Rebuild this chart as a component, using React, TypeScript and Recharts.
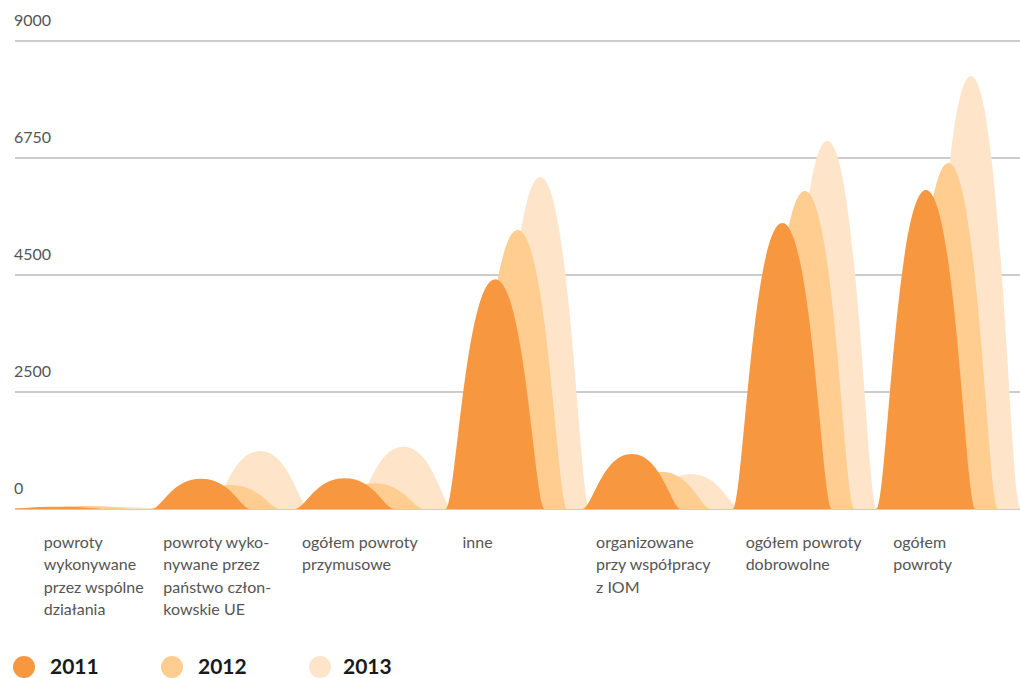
import React from "react";
import { BarChart, Bar, XAxis, YAxis, CartesianGrid, Legend } from "recharts";

const CATEGORIES = [
  "powroty wykonywane przez wspólne działania",
  "powroty wykonywane przez państwo członkowskie UE",
  "ogółem powroty przymusowe",
  "inne",
  "organizowane przy współpracy z IOM",
  "ogółem powroty dobrowolne",
  "ogółem powroty",
];

const CATEGORY_LINES = [
  ["powroty", "wykonywane", "przez wspólne", "działania"],
  ["powroty wyko-", "nywane przez", "państwo człon-", "kowskie UE"],
  ["ogółem powroty", "przymusowe"],
  ["inne"],
  ["organizowane", "przy współpracy", "z IOM"],
  ["ogółem powroty", "dobrowolne"],
  ["ogółem", "powroty"],
];

const YEARS = ["2011", "2012", "2013"];
const V2011 = [45, 583, 590, 4420, 1058, 5500, 6135];
const V2012 = [60, 462, 494, 5365, 718, 6115, 6654];
const V2013 = [40, 1115, 1198, 6385, 673, 7077, 8327];

const Y_TICKS = [0, 2250, 4500, 6750, 9000];
const Y_TICK_LABELS = ["0", "2500", "4500", "6750", "9000"];

const COLORS = ["#F79740", "#FECD8F", "#FEE5CA"];

// layout-only constants
const LABEL_DX = [-43, -67, -72, -55, -65, -59, -55];
const BAR_SIZE = 10;
const HALF_W = 49.5;

const data = CATEGORIES.map((c, i) => ({
  name: c,
  y2011: V2011[i],
  y2012: V2012[i],
  y2013: V2013[i],
}));

const clamp = (v: number, a: number, b: number) => Math.max(a, Math.min(b, v));

const makeBell = (yearIdx: number, childIdx: number) => (props: any) => {
  const { x, y, width, height, fill } = props;
  if (x == null || y == null || !height) return <g />;
  const barCenter = x + width / 2;
  const bandCenter = barCenter - (childIdx - 1) * BAR_SIZE;
  const step = 22.5 + 7 * clamp((150 - height) / 90, 0, 1);
  const cx = bandCenter + (yearIdx - 1) * step;
  const base = y + height;
  const top = y;
  const W = HALF_W;
  const d = `M${cx - W},${base} C${cx - 0.8 * W},${base} ${cx - 0.6 * W},${top} ${cx},${top} C${cx + 0.6 * W},${top} ${cx + 0.8 * W},${base} ${cx + W},${base} Z`;
  return <path d={d} fill={fill} stroke="none" />;
};

const YTick = (props: any) => {
  const { y, payload } = props;
  const idx = Y_TICKS.indexOf(Number(payload && payload.value));
  const label = idx >= 0 ? Y_TICK_LABELS[idx] : String(payload && payload.value);
  return (
    <text x={14} y={y - 15.5} fill="#555" fontSize={16} fontFamily="Lato" textAnchor="start">
      {label}
    </text>
  );
};

const XTick = (props: any) => {
  const { x, y, payload } = props;
  const index = CATEGORIES.indexOf(payload && payload.value);
  const lines = CATEGORY_LINES[index] || [];
  const lx = x + (LABEL_DX[index] || 0);
  return (
    <text x={lx} y={y} fill="#555" fontSize={16} fontFamily="Lato" textAnchor="start">
      {lines.map((l, i) => (
        <tspan key={i} x={lx} y={y + 39 + i * 22.3}>
          {l}
        </tspan>
      ))}
    </text>
  );
};

const LegendContent = () => (
  <div style={{ position: "relative", width: 420, height: 22 }}>
    {YEARS.map((yr, i) => (
      <div key={yr} style={{ position: "absolute", left: 13 + i * 148, top: 0, height: 22 }}>
        <div
          style={{
            position: "absolute",
            left: 0,
            top: 0,
            width: 22,
            height: 22,
            borderRadius: 11,
            background: COLORS[i],
          }}
        />
        <div
          style={{
            position: "absolute",
            left: i === 2 ? 34 : 37,
            top: -2,
            fontFamily: "Lato",
            fontWeight: 700,
            fontSize: 21,
            lineHeight: "24px",
            color: "#1a1a1a",
            whiteSpace: "nowrap",
          }}
        >
          {yr}
        </div>
      </div>
    ))}
  </div>
);

export default function App() {
  return (
    <div style={{ position: "absolute", left: 0, top: 0, width: 1020, height: 678 }}>
      <BarChart
        width={1020}
        height={678}
        data={data}
        margin={{ top: 41, right: 0, left: 14, bottom: 27 }}
        barSize={BAR_SIZE}
        barGap={0}
      >
        <CartesianGrid vertical={false} stroke="#999" strokeWidth={1.2} />
        <XAxis
          dataKey="name"
          type="category"
          height={120}
          tickLine={false}
          axisLine={false}
          tickSize={0}
          tickMargin={0}
          interval={0}
          tick={(p: any) => <XTick {...p} />}
        />
        <YAxis
          width={1}
          domain={[0, 9000]}
          ticks={Y_TICKS}
          axisLine={false}
          tickLine={false}
          tick={(p: any) => <YTick {...p} />}
          interval={0}
        />
        <Legend
          verticalAlign="bottom"
          content={<LegendContent />}
          wrapperStyle={{ position: "absolute", left: 0, top: 656, width: 420, height: 22 }}
        />
        <Bar dataKey="y2013" name="2013" fill={COLORS[2]} isAnimationActive={false} shape={makeBell(2, 0)} />
        <Bar dataKey="y2012" name="2012" fill={COLORS[1]} isAnimationActive={false} shape={makeBell(1, 1)} />
        <Bar dataKey="y2011" name="2011" fill={COLORS[0]} isAnimationActive={false} shape={makeBell(0, 2)} />
      </BarChart>
    </div>
  );
}
